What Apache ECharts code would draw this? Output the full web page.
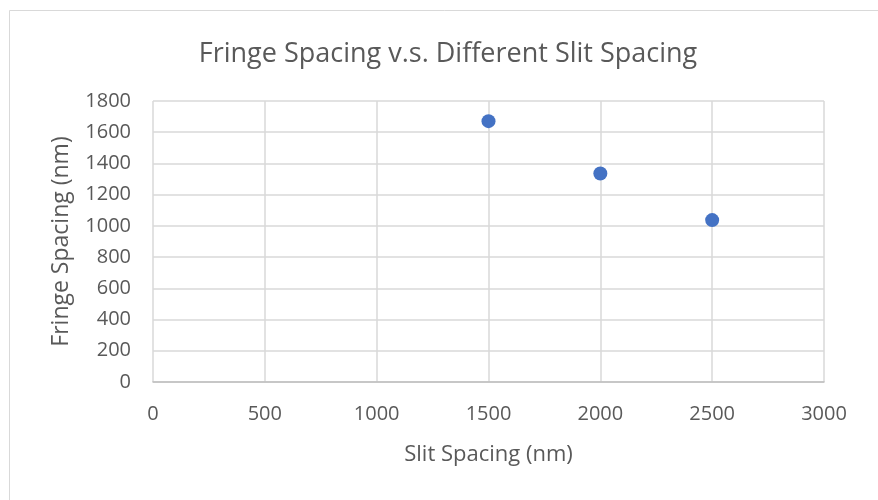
<!DOCTYPE html>
<html>
<head>
<meta charset="utf-8">
<script src="https://cdn.jsdelivr.net/npm/echarts@6/dist/echarts.min.js"></script>
<style>html,body{margin:0;padding:0;background:#fff;}#c{width:878px;height:500px;}</style>
</head>
<body>
<div id="c"></div>
<script>
const slitSpacing = [1500, 2000, 2500];
const fringeSpacing = [1671, 1336, 1037];
const xTicks = [0, 500, 1000, 1500, 2000, 2500, 3000];
const yTicks = [0, 200, 400, 600, 800, 1000, 1200, 1400, 1600, 1800];
const titleText = 'Fringe Spacing v.s. Different Slit Spacing';
const xName = 'Slit Spacing (nm)';
const yName = 'Fringe Spacing (nm)';

const FONT = 'Open Sans';
const TXT = '#595959';
const chart = echarts.init(document.getElementById('c'));
chart.setOption({
  backgroundColor: '#fff',
  animation: false,
  graphic: [{
    type: 'rect', silent: true,
    shape: {x: 9.5, y: 10.5, width: 900, height: 520},
    style: {fill: 'none', stroke: '#d9d9d9', lineWidth: 1}
  }],
  title: {
    text: titleText, left: 443, top: 36, textAlign: 'center',
    textStyle: {fontFamily: FONT, fontSize: 27, fontWeight: 'normal', color: TXT}
  },
  grid: {left: 153, right: 54, top: 101, bottom: 118, containLabel: false},
  xAxis: {
    type: 'value', min: xTicks[0], max: xTicks[xTicks.length - 1], interval: 500,
    name: xName, nameLocation: 'middle', nameGap: 62,
    nameTextStyle: {fontFamily: FONT, fontSize: 22, color: TXT},
    axisLine: {show: true, lineStyle: {color: '#bfbfbf', width: 1.5}},
    axisTick: {show: false},
    axisLabel: {fontFamily: FONT, fontSize: 20, color: TXT, margin: 22, formatter: v => String(v)},
    splitLine: {show: true, lineStyle: {color: '#d9d9d9', width: 1.5}}
  },
  yAxis: {
    type: 'value', min: yTicks[0], max: yTicks[yTicks.length - 1], interval: 200,
    name: yName, nameLocation: 'middle', nameGap: 80,
    nameTextStyle: {fontFamily: FONT, fontSize: 23, color: TXT},
    axisLine: {show: false},
    axisTick: {show: false},
    axisLabel: {fontFamily: FONT, fontSize: 20, color: TXT, margin: 22, formatter: v => String(v)},
    splitLine: {show: true, lineStyle: {color: '#d9d9d9', width: 1.5}}
  },
  series: [{
    type: 'scatter',
    data: slitSpacing.map((x, i) => [x, fringeSpacing[i]]),
    symbol: 'circle', symbolSize: 14,
    itemStyle: {color: '#4472C4', opacity: 1}
  }]
});
</script>
</body>
</html>
